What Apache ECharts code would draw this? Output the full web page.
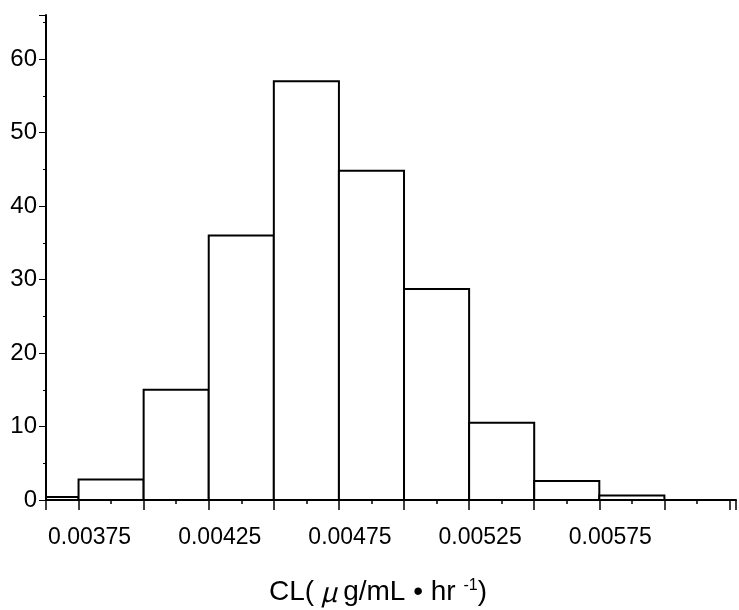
<!DOCTYPE html>
<html>
<head>
<meta charset="utf-8">
<script src="https://cdn.jsdelivr.net/npm/echarts@6/dist/echarts.min.js"></script>
<style>html,body{margin:0;padding:0;background:#fff;}#c{width:739px;height:610px;}</style>
</head>
<body>
<div id="c"></div>
<script>
// Histogram bins (CL in µg/mL·hr^-1)
const binStarts = [0.0035, 0.00375, 0.004, 0.00425, 0.0045, 0.00475, 0.005, 0.00525, 0.0055, 0.00575];
const binEnds   = [0.00375, 0.004, 0.00425, 0.0045, 0.00475, 0.005, 0.00525, 0.0055, 0.00575, 0.006];
const counts    = [0.4, 2.8, 15, 36, 57, 44.8, 28.7, 10.5, 2.6, 0.6];
const xTickLabels = ['0.00375', '0.00425', '0.00475', '0.00525', '0.00575'];
const yTicks = [0, 10, 20, 30, 40, 50, 60];

const unit = 0.000125;          // axis works in half-bin units
const toU = v => Math.round(v / unit * 1000) / 1000;
const xMin = 0.003625, xMax = 0.006275;

const data = counts.map((c, i) => [toU(binStarts[i]), toU(binEnds[i]), c]);

const font = 'Liberation Sans, Arial, sans-serif';
const chart = echarts.init(document.getElementById('c'), null, {renderer: 'canvas'});
chart.setOption({
  animation: false,
  backgroundColor: '#fff',
  title: {
    text: '{a|CL(}{mu| μ }{a|g/mL • hr }{sup|-1}{a|)}',
    left: 264, top: 573,
    textStyle: {
      fontWeight: 'normal',
      rich: {
        a: {fontFamily: font, fontSize: 28, fontWeight: 'normal', color: '#000'},
        mu: {fontFamily: 'Noto Sans CJK JP, serif', fontSize: 27, fontWeight: 'normal', color: '#000', fontStyle: 'italic'},
        sup: {fontFamily: font, fontSize: 16, fontWeight: 'normal', color: '#000', verticalAlign: 'top', padding: [0, 0, 12, 0]}
      }
    }
  },
  grid: {left: 46, right: 0, top: 15, bottom: 110, containLabel: false},
  xAxis: {
    type: 'value',
    min: toU(xMin), max: toU(xMax),
    minInterval: 2, maxInterval: 2, splitNumber: 10,
    axisLine: {show: true, lineStyle: {color: '#000', width: 2}},
    axisTick: {show: true, length: 10, lineStyle: {color: '#000', width: 1.5}},
    minorTick: {show: true, splitNumber: 2, length: 4, lineStyle: {color: '#000', width: 1.5}},
    splitLine: {show: false},
    axisLabel: {
      show: true, margin: 26, fontFamily: font, fontSize: 23, color: '#000',
      padding: [0, 0, 0, 22],
      formatter: v => {
        const s = (v * unit).toFixed(5);
        return xTickLabels.includes(s) ? s : '';
      }
    }
  },
  yAxis: {
    type: 'value', min: 0, max: 66, interval: 10,
    axisLine: {show: true, lineStyle: {color: '#000', width: 2}},
    axisTick: {show: true, length: 7, lineStyle: {color: '#000', width: 1}},
    minorTick: {show: true, splitNumber: 2, length: 3, lineStyle: {color: '#000', width: 1}},
    splitLine: {show: false},
    axisLabel: {
      margin: 9, fontFamily: font, fontSize: 24, color: '#000',
      formatter: v => yTicks.includes(v) ? String(v) : ''
    }
  },
  series: [{
    type: 'custom',
    clip: true,
    encode: {x: [0, 1], y: 2},
    data: data,
    renderItem: (params, api) => {
      const p0 = api.coord([api.value(0), api.value(2)]);
      const p1 = api.coord([api.value(1), 0]);
      const rect = echarts.graphic.clipRectByRect(
        {x: p0[0], y: p0[1], width: p1[0] - p0[0], height: p1[1] - p0[1]},
        {x: params.coordSys.x, y: params.coordSys.y, width: params.coordSys.width, height: params.coordSys.height}
      );
      return rect && {
        type: 'rect', shape: rect,
        style: {fill: '#fff', stroke: '#000', lineWidth: 2}
      };
    }
  }]
});
</script>
</body>
</html>
